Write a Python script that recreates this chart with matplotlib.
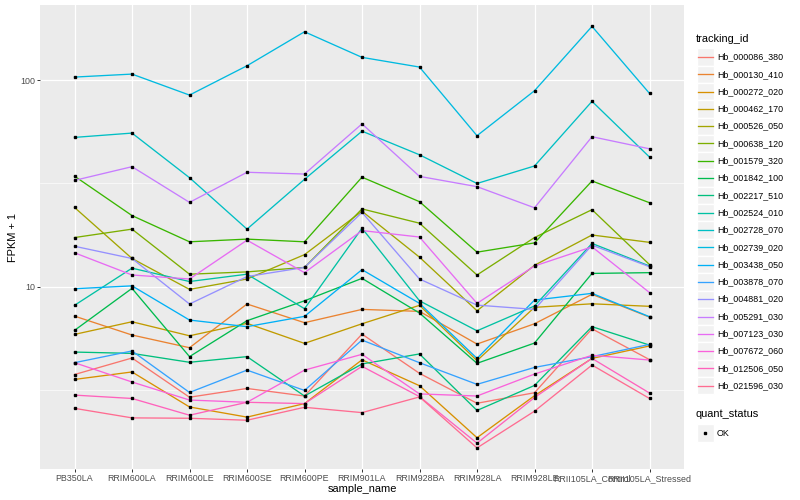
import numpy as np
import matplotlib.pyplot as plt
from matplotlib.lines import Line2D
from matplotlib.patches import Rectangle
from matplotlib.ticker import FixedLocator, NullFormatter

plt.rcParams['font.family'] = ['Liberation Sans', 'DejaVu Sans']

samples = ['PB350LA', 'RRIM600LA', 'RRIM600LE', 'RRIM600SE', 'RRIM600PE', 'RRIM901LA',
           'RRIM928BA', 'RRIM928LA', 'RRIM928LE', 'RRII105LA_Control', 'RRII105LA_Stressed']

genes = ['Hb_000086_380', 'Hb_000130_410', 'Hb_000272_020', 'Hb_000462_170', 'Hb_000526_050',
         'Hb_000638_120', 'Hb_001579_320', 'Hb_001842_100', 'Hb_002217_510', 'Hb_002524_010',
         'Hb_002728_070', 'Hb_002739_020', 'Hb_003438_050', 'Hb_003878_070', 'Hb_004881_020',
         'Hb_005291_030', 'Hb_007123_030', 'Hb_007672_060', 'Hb_012506_050', 'Hb_021596_030']

# ggplot hue palette, 20 levels
colors = ['#F8766D', '#EA8331', '#D89000', '#C09B00', '#A3A500', '#7CAE00', '#39B600',
          '#00BB4E', '#00BF7D', '#00C1A3', '#00BFC4', '#00BAE0', '#00B0F6', '#35A2FF',
          '#9590FF', '#C77CFF', '#E76BF3', '#FA62DB', '#FF62BC', '#FF6C91']

# FPKM + 1, one value per sample
Hb_000086_380 = [3.76, 4.52, 2.92, 3.22, 2.96, 5.90, 3.81, 2.73, 3.07, 6.26, 4.44]
Hb_000130_410 = [7.21, 5.84, 5.07, 8.25, 6.70, 7.77, 7.60, 5.28, 6.62, 9.19, 7.13]
Hb_000272_020 = [3.56, 3.87, 2.62, 2.34, 2.72, 4.43, 3.32, 1.86, 2.97, 4.50, 5.17]
Hb_000462_170 = [5.88, 6.77, 5.79, 6.65, 5.32, 6.62, 8.13, 4.39, 7.95, 8.27, 8.04]
Hb_000526_050 = [24.2, 13.7, 9.71, 10.9, 14.3, 23.2, 13.9, 7.65, 12.7, 17.8, 16.4]
Hb_000638_120 = [17.3, 19.0, 11.5, 11.8, 12.4, 23.8, 20.3, 11.4, 17.3, 23.6, 12.8]
Hb_001579_320 = [34.3, 22.1, 16.5, 17.0, 16.5, 33.9, 25.8, 14.7, 16.3, 32.5, 25.5]
Hb_001842_100 = [6.15, 9.82, 4.59, 6.85, 8.55, 10.98, 7.46, 4.26, 5.34, 11.6, 11.7]
Hb_002217_510 = [4.83, 4.76, 4.31, 4.59, 2.96, 4.23, 4.73, 2.52, 3.33, 6.41, 5.22]
Hb_002524_010 = [8.13, 12.3, 10.6, 11.5, 7.83, 19.2, 8.55, 6.12, 8.07, 16.2, 12.6]
Hb_002728_070 = [52.8, 55.4, 33.7, 19.0, 33.1, 56.6, 43.5, 31.6, 38.4, 78.9, 42.4]
Hb_002739_020 = [103.4, 106.9, 84.6, 117.3, 171.3, 128.8, 115.6, 53.8, 88.8, 181.9, 86.2]
Hb_003438_050 = [9.78, 10.1, 6.90, 6.41, 7.19, 12.1, 8.31, 4.50, 8.62, 9.29, 7.16]
Hb_003878_070 = [4.29, 4.89, 3.08, 3.95, 3.15, 5.52, 4.29, 3.37, 4.07, 4.59, 5.26]
Hb_004881_020 = [15.7, 13.7, 8.25, 11.2, 12.4, 22.9, 10.9, 8.15, 7.77, 15.9, 12.5]
Hb_005291_030 = [32.7, 38.1, 25.6, 35.8, 35.1, 61.4, 34.2, 30.5, 24.1, 53.2, 46.5]
Hb_007123_030 = [14.6, 11.4, 10.9, 16.8, 11.7, 18.7, 17.4, 8.31, 12.6, 15.6, 9.37]
Hb_007672_060 = [4.29, 3.46, 2.83, 2.76, 3.95, 4.71, 3.03, 2.96, 3.78, 4.66, 4.42]
Hb_012506_050 = [2.99, 2.88, 2.39, 2.76, 2.72, 4.12, 2.94, 1.75, 2.91, 4.50, 3.06]
Hb_021596_030 = [2.58, 2.32, 2.31, 2.26, 2.61, 2.46, 2.93, 1.66, 2.50, 4.18, 2.88]

fpkm = [Hb_000086_380, Hb_000130_410, Hb_000272_020, Hb_000462_170, Hb_000526_050,
        Hb_000638_120, Hb_001579_320, Hb_001842_100, Hb_002217_510, Hb_002524_010,
        Hb_002728_070, Hb_002739_020, Hb_003438_050, Hb_003878_070, Hb_004881_020,
        Hb_005291_030, Hb_007123_030, Hb_007672_060, Hb_012506_050, Hb_021596_030]

quant_status = ['OK']


def fx(px):
    return px / 800


def fy(py):
    return 1 - py / 500


fig = plt.figure(figsize=(8, 5), dpi=100)
ax = fig.add_axes([fx(40), fy(469), fx(684) - fx(40), fy(5.3) - fy(469)])
ax.set_facecolor('#EBEBEB')
for s in ax.spines.values():
    s.set_visible(False)

x = np.arange(len(samples))
for vals, c in zip(fpkm, colors):
    ax.plot(x, vals, color=c, lw=0.95, zorder=2)
for vals in fpkm:
    ax.plot(x, vals, 's', color='black', ms=2.0, zorder=3)

ax.set_yscale('log')
allv = np.log10(np.concatenate([np.array(v) for v in fpkm]))
lo, hi = allv.min(), allv.max()
pad = 0.05 * (hi - lo)
ax.set_ylim(10 ** (lo - pad), 10 ** (hi + pad))
ax.set_xlim(-0.6, len(samples) - 0.4)

ax.set_xticks(x)
ax.set_xticklabels(samples)
ax.set_yticks([10, 100])
ax.set_yticklabels(['10', '100'])
ax.yaxis.set_minor_locator(FixedLocator([10 ** 0.5, 10 ** 1.5]))
ax.yaxis.set_minor_formatter(NullFormatter())
ax.tick_params(which='major', length=2.0, width=0.7, color='#333333',
               labelsize=6.4, labelcolor='#4D4D4D', pad=1.5)
ax.tick_params(which='minor', length=0)
ax.grid(which='major', color='white', lw=0.9)
ax.grid(which='minor', axis='y', color='white', lw=0.45)
ax.set_axisbelow(True)

fig.text(fx(362), fy(489), 'sample_name', fontsize=7.9, ha='center', va='center')
fig.text(fx(13), fy(237), 'FPKM + 1', fontsize=7.9, ha='center', va='center', rotation=90)

# legend
fig.text(fx(696), fy(39), 'tracking_id', fontsize=7.9, va='center')
step = 17.3
for i, (g, c) in enumerate(zip(genes, colors)):
    yc = 57 + step * i
    fig.add_artist(Rectangle((fx(696.5), fy(yc + step / 2)), 17.3 / 800, step / 500,
                             facecolor='#F2F2F2', edgecolor='white', lw=1))
    fig.add_artist(Line2D([fx(698), fx(712.5)], [fy(yc), fy(yc)], color=c, lw=0.95))
    fig.text(fx(717), fy(yc), g, fontsize=6.4, va='center')

fig.text(fx(696), fy(414), 'quant_status', fontsize=7.9, va='center')
for i, q in enumerate(quant_status):
    yc = 433 + step * i
    fig.add_artist(Rectangle((fx(696.5), fy(yc + step / 2)), 17.3 / 800, step / 500,
                             facecolor='#F2F2F2', edgecolor='white', lw=1))
    fig.add_artist(Line2D([fx(705)], [fy(yc)], marker='s', color='black', ms=2.0, lw=0))
    fig.text(fx(717), fy(yc), q, fontsize=6.4, va='center')

plt.savefig('out.png', dpi=100)
